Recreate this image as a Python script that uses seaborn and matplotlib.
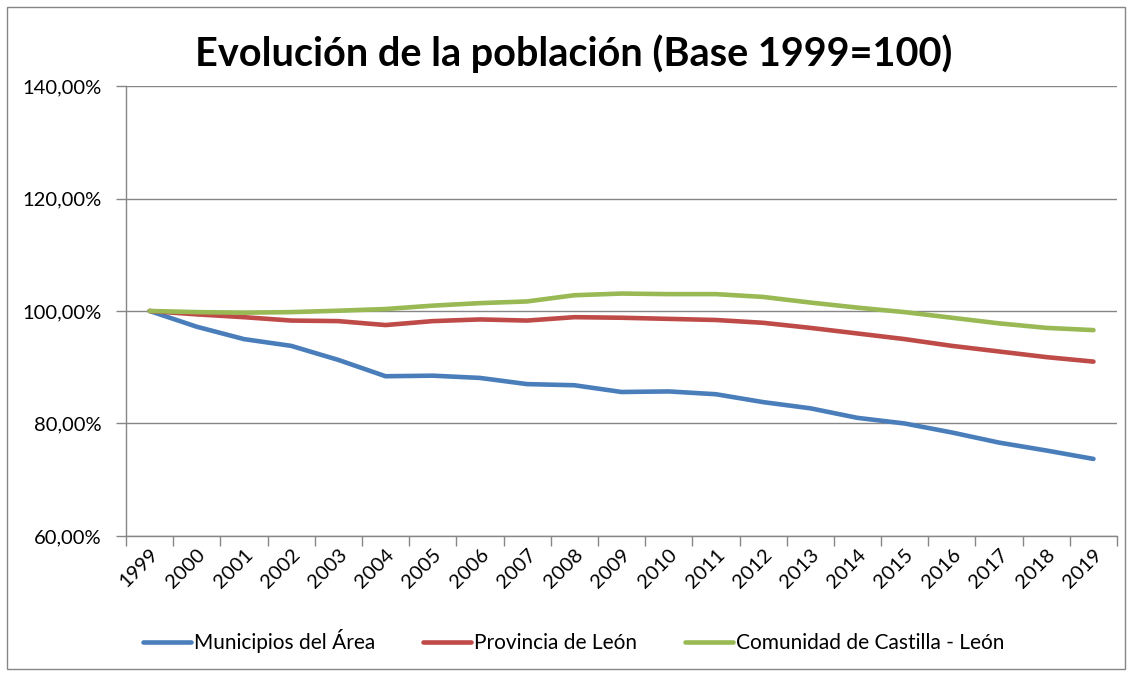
import numpy as np
import pandas as pd
import seaborn as sb
import matplotlib.pyplot as plt
from matplotlib.patches import Rectangle
from matplotlib.ticker import FixedLocator, FuncFormatter

# ---------------------------------------------------------------
# Data (1999 = 100)
# ---------------------------------------------------------------
years = [str(y) for y in range(1999, 2020)]

municipios = [100.0, 97.2, 95.0, 93.8, 91.3, 88.4, 88.5, 88.1, 87.0, 86.8, 85.6,
              85.7, 85.2, 83.8, 82.7, 81.0, 80.0, 78.4, 76.6, 75.2, 73.7]
provincia = [100.0, 99.4, 98.9, 98.3, 98.2, 97.5, 98.2, 98.5, 98.3, 98.9, 98.8,
             98.6, 98.4, 97.9, 97.0, 96.0, 95.0, 93.8, 92.8, 91.8, 91.0]
comunidad = [100.0, 99.8, 99.7, 99.8, 100.05, 100.35, 100.95, 101.4, 101.7, 102.8, 103.1,
             103.0, 103.0, 102.5, 101.5, 100.6, 99.8, 98.8, 97.8, 97.0, 96.6]

series_names = ['Municipios del Área', 'Provincia de León', 'Comunidad de Castilla - León']
colors = ['#4A7EBB', '#BE4B48', '#98B954']
y_ticks = [60, 80, 100, 120, 140]

df = pd.DataFrame({
    'pos': list(range(len(years))) * 3,
    'valor': municipios + provincia + comunidad,
    'serie': np.repeat(series_names, len(years)),
})

# ---------------------------------------------------------------
# Figure
# ---------------------------------------------------------------
sb.set_style('white')
plt.rcParams['font.family'] = ['Lato', 'DejaVu Sans']
plt.rcParams['text.color'] = 'black'
plt.rcParams['xtick.color'] = 'black'
plt.rcParams['ytick.color'] = 'black'

fig = plt.figure(figsize=(11.32, 6.73), dpi=100)
ax = fig.add_axes([0.1113, 0.2036, 0.8755, 0.6686])

sb.lineplot(data=df, x='pos', y='valor', hue='serie', hue_order=series_names,
            palette=colors, linewidth=3.3, ax=ax, legend=True)
for line in ax.lines:
    line.set_solid_capstyle('round')
    line.set_solid_joinstyle('round')

grid_col = '#868686'
ax.set_xlim(-0.5, len(years) - 0.5)
ax.set_ylim(60, 140)
ax.set_yticks(y_ticks)
ax.yaxis.set_major_formatter(FuncFormatter(lambda v, p: f'{v:.2f}'.replace('.', ',') + '%'))
ax.yaxis.grid(True, color=grid_col, linewidth=1)
ax.set_axisbelow(True)

# tick marks on category boundaries, labels on category centres
ax.xaxis.set_major_locator(FixedLocator(np.arange(-0.5, len(years), 1)))
ax.xaxis.set_major_formatter(FuncFormatter(lambda v, p: ''))
ax.xaxis.set_minor_locator(FixedLocator(np.arange(len(years))))
ax.set_xticklabels(years, minor=True, rotation=45, ha='right', rotation_mode='anchor')
ax.tick_params(axis='x', which='major', length=7, width=1, color=grid_col, direction='out', bottom=True)
ax.tick_params(axis='x', which='minor', length=0, pad=7, labelsize=14.5, labelcolor='black')
ax.tick_params(axis='y', length=7, width=1, color=grid_col, direction='out', left=True,
               labelsize=14.5, labelcolor='black', pad=10.5)

for side in ['top', 'right']:
    ax.spines[side].set_visible(False)
for side in ['left', 'bottom']:
    ax.spines[side].set_color(grid_col)
    ax.spines[side].set_linewidth(1)

ax.set_xlabel('')
ax.set_ylabel('')

fig.text(0.507, 0.92, 'Evolución de la población (Base 1999=100)', ha='center', va='center',
         fontsize=28.5, fontweight='bold', color='black')

handles, labels = ax.get_legend_handles_labels()
ax.legend(handles, labels, loc='center', bbox_to_anchor=(0.507, 0.047), bbox_transform=fig.transFigure,
          ncol=3, frameon=False, fontsize=15, handlelength=2.3, handletextpad=0.15, columnspacing=2.3)

# outer chart border
fig.patches.append(Rectangle((7 / 1132, 4 / 673), 1118 / 1132, 662 / 673, transform=fig.transFigure,
                             fill=False, edgecolor=grid_col, linewidth=1))

plt.savefig('out.png', dpi=100)
plt.close()
